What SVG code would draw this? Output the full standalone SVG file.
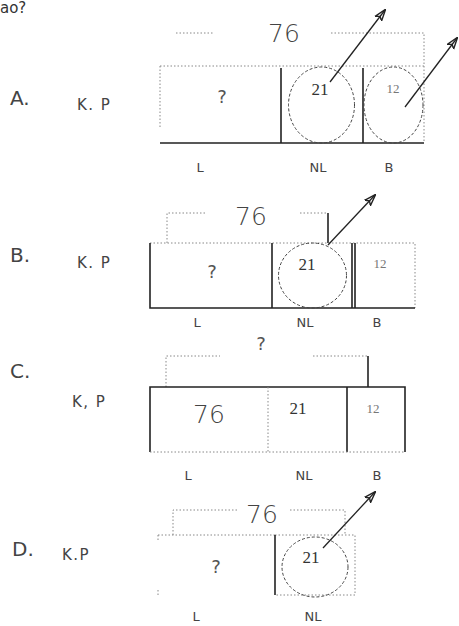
<svg xmlns="http://www.w3.org/2000/svg" width="459" height="626" viewBox="0 0 459 626">
<defs>
<marker id="ah" viewBox="0 0 12 10" refX="11" refY="5" markerWidth="12" markerHeight="10" markerUnits="userSpaceOnUse" orient="auto">
<path d="M0,1 L12,5 L0,9 L3,5 Z" fill="none" stroke="#222" stroke-width="1.4"/>
</marker>
<style>
text{font-family:"DejaVu Sans","Liberation Sans",sans-serif;fill:#333}
.lbl{font-size:20px;fill:#444}
.kp{font-size:15px;fill:#444;letter-spacing:1.5px}
.big{font-size:25px;fill:#444;font-weight:300}
.num{font-family:"Liberation Serif",serif;font-size:17px;fill:#333}
.sm{font-family:"Liberation Serif",serif;font-size:13px;fill:#777}
.q{font-size:18px;fill:#555}
.seg{font-size:13px;fill:#444}
.solid{stroke:#222;stroke-width:1.6;fill:none}
.dot{stroke:#888;stroke-width:1;stroke-dasharray:1.5 2;fill:none}
.dash{stroke:#444;stroke-width:1;stroke-dasharray:3 2;fill:none}
.arr{stroke:#222;stroke-width:1.3;fill:none;marker-end:url(#ah)}
</style>
</defs>
<text x="0" y="13" style="font-size:15px">ao?</text>

<g id="optionA">
<text class="lbl" x="10" y="105">A.</text>
<text class="kp" x="77" y="110">K. P</text>
<text class="big" x="268" y="42">76</text>
<path class="dot" d="M176,33 H213 M331,33 H424 V143 M160,66 H424 M160,66 V128"/>
<path class="solid" d="M160,143 H424 M281,68 V143 M363,68 V143"/>
<ellipse class="dash" cx="321.5" cy="105" rx="33" ry="38"/>
<ellipse class="dash" cx="393.5" cy="105" rx="29.5" ry="38"/>
<text class="num" x="320" y="95" text-anchor="middle">21</text>
<text class="sm" x="393" y="93" text-anchor="middle">12</text>
<text class="q" x="222" y="103" text-anchor="middle">?</text>
<text class="seg" x="200" y="172" text-anchor="middle">L</text>
<text class="seg" x="318" y="172" text-anchor="middle">NL</text>
<text class="seg" x="389" y="172" text-anchor="middle">B</text>
</g>

<g id="optionB">
<text class="lbl" x="10" y="262">B.</text>
<text class="kp" x="77" y="268">K. P</text>
<text class="big" x="235" y="225">76</text>
<path class="dot" d="M167,243 V213 H205 M300,213 H328"/>
<path class="solid" d="M328,213 V243"/>
<path class="dot" d="M150,243 H415 V308"/>
<path class="solid" d="M150,243 V308 H415 M272,243 V308 M352,243 V308 M355,243 V308"/>
<ellipse class="dash" cx="312.5" cy="275.5" rx="34" ry="32.5"/>
<text class="num" x="307" y="270" text-anchor="middle">21</text>
<text class="sm" x="380" y="268" text-anchor="middle">12</text>
<text class="q" x="212" y="278" text-anchor="middle">?</text>
<text class="seg" x="197" y="327" text-anchor="middle">L</text>
<text class="seg" x="305" y="327" text-anchor="middle">NL</text>
<text class="seg" x="377" y="327" text-anchor="middle">B</text>
</g>

<g id="optionC">
<text class="lbl" x="10" y="378">C.</text>
<text class="kp" x="72" y="407">K, P</text>
<text class="q" x="261" y="350" text-anchor="middle">?</text>
<path class="dot" d="M166,387 V356 H220 M313,356 H368"/>
<path class="solid" d="M368,356 V387"/>
<path class="solid" d="M150,452 V387 H405 V452 M347,387 V452"/>
<path class="dot" d="M150,452 H405 M268,387 V452"/>
<text class="big" x="209" y="423" text-anchor="middle">76</text>
<text class="num" x="298" y="414" text-anchor="middle">21</text>
<text class="sm" x="373" y="413" text-anchor="middle">12</text>
<text class="seg" x="188" y="480" text-anchor="middle">L</text>
<text class="seg" x="304" y="480" text-anchor="middle">NL</text>
<text class="seg" x="377" y="480" text-anchor="middle">B</text>
</g>

<g id="optionD">
<text class="lbl" x="12" y="556">D.</text>
<text class="kp" x="62" y="560">K.P</text>
<path class="dot" d="M173,535 V510 H237 M290,510 H345 V535"/>
<text class="big" x="262" y="523" text-anchor="middle">76</text>
<path class="dot" d="M158,535 H275 M158,535 V542 M158,590 V596 M275,535 H355 V595 H275"/>
<path class="solid" d="M275,535 V595"/>
<ellipse class="dash" cx="315" cy="567" rx="33" ry="30"/>
<text class="num" x="311" y="563" text-anchor="middle">21</text>
<text class="q" x="216" y="573" text-anchor="middle">?</text>
<text class="seg" x="196" y="621" text-anchor="middle">L</text>
<text class="seg" x="313" y="621" text-anchor="middle">NL</text>
</g>

<g id="connectors">
<line class="arr" x1="330" y1="82" x2="385" y2="10"/>
<line class="arr" x1="405" y1="107" x2="457" y2="38"/>
<line class="arr" x1="328" y1="245" x2="375" y2="195"/>
<line class="arr" x1="323" y1="548" x2="375" y2="492"/>
</g>
</svg>
